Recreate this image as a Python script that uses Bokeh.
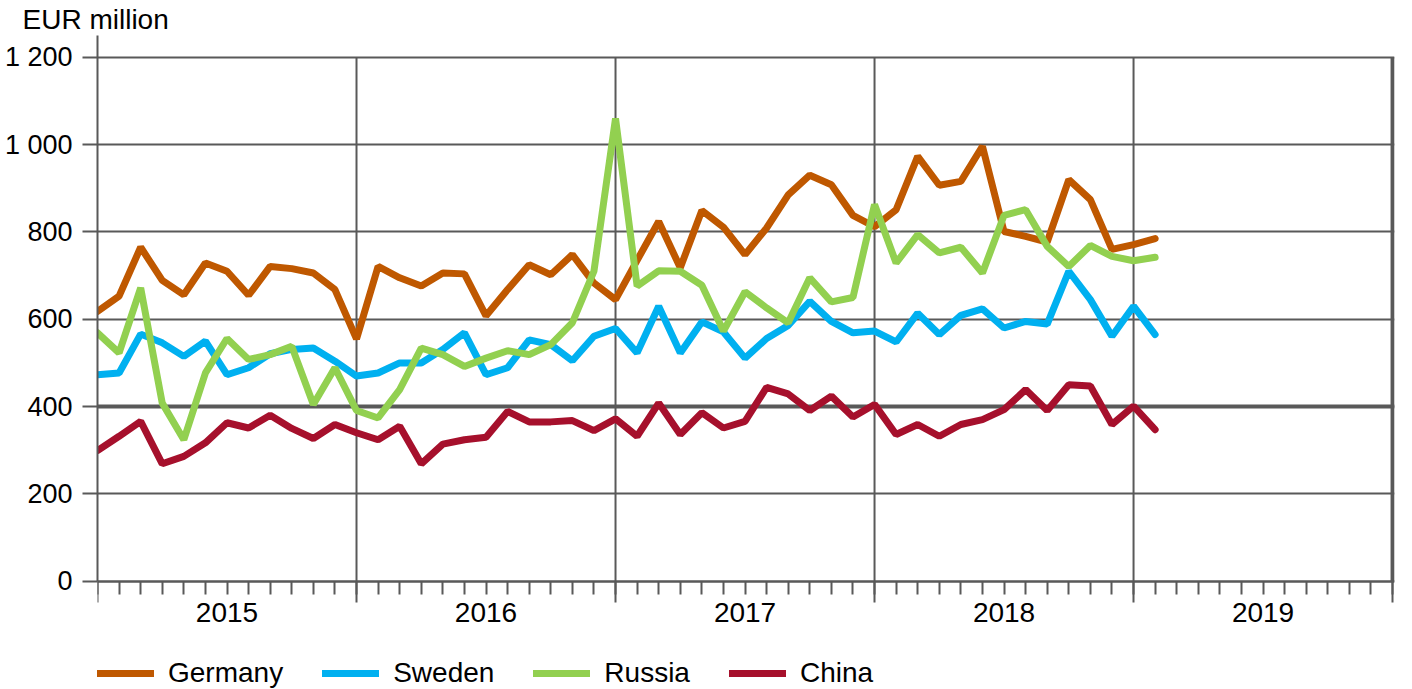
from bokeh.plotting import figure
from bokeh.models import (FixedTicker, LinearAxis, Legend, LegendItem,
                          Grid, Range1d, Title)
from bokeh.embed import file_html
from bokeh.resources import INLINE
import numpy as np

# ---- data (EUR million, monthly Jan 2015 - Feb 2019) ----
germany = [618, 653, 765, 689, 656, 729, 710, 655, 721, 716, 706, 668,
           555, 721, 695, 676, 706, 704, 608, 668, 725, 702, 748, 683,
           645, 735, 824, 718, 849, 811, 748, 809, 885, 930, 908, 838,
           812, 851, 973, 907, 916, 996, 801, 790, 777, 920, 874, 760,
           771, 785]
sweden = [473, 477, 566, 546, 515, 550, 473, 489, 521, 531, 534, 504,
          470, 477, 500, 500, 531, 569, 473, 489, 553, 542, 505, 561,
          579, 523, 630, 523, 594, 571, 511, 556, 586, 641, 595, 569,
          573, 548, 614, 565, 609, 624, 580, 595, 589, 710, 645, 561,
          630, 565]
russia = [569, 523, 672, 408, 324, 477, 556, 508, 519, 538, 405, 489,
          391, 374, 439, 534, 519, 492, 511, 528, 519, 542, 592, 710,
          1060, 676, 711, 710, 678, 573, 663, 626, 592, 695, 640, 650,
          863, 729, 794, 752, 765, 706, 838, 851, 767, 721, 769, 744,
          734, 742]
china = [299, 332, 366, 269, 286, 317, 363, 351, 380, 350, 327, 359,
         340, 324, 355, 269, 314, 324, 330, 389, 365, 365, 368, 345,
         372, 332, 408, 336, 386, 351, 366, 444, 429, 391, 424, 376,
         405, 336, 359, 332, 359, 370, 393, 439, 391, 450, 447, 359,
         401, 347]

series_names = ["Germany", "Sweden", "Russia", "China"]
series_colors = ["#BF5800", "#00B0F0", "#92D050", "#A6102C"]
years = ["2015", "2016", "2017", "2018", "2019"]
y_ticks = [0, 200, 400, 600, 800, 1000, 1200]
y_tick_labels = ["0", "200", "400", "600", "800", "1 000", "1 200"]
emphasis_ticks = [400]

FONT = "Liberation Sans"
GRID = "#595959"

n_months = 12 * len(years)
x = np.arange(len(germany))
year_bounds = [12 * k for k in range(len(years) + 1)]
year_mid = [12 * k + 6 for k in range(len(years))]

Y_TOP = 1250
Y_BOTTOM = -248  # room below the axis for year labels and legend

p = figure(width=1412, height=689,
           x_range=Range1d(0, n_months + 0.09), y_range=Range1d(Y_BOTTOM, Y_TOP),
           output_backend="svg", toolbar_location=None,
           min_border_left=97, min_border_right=18, min_border_top=0,
           min_border_bottom=0)
p.title = Title(text="EUR million", align="left", offset=-75, standoff=2,
                text_font=FONT, text_font_size="28px", text_font_style="normal",
                text_color="black")
p.outline_line_color = None
p.background_fill_color = "white"
p.border_fill_color = "white"

# grids
p.xgrid.visible = False
p.ygrid.ticker = FixedTicker(ticks=y_ticks)
p.ygrid.grid_line_color = GRID
p.ygrid.grid_line_width = 2
emph = Grid(dimension=1, ticker=FixedTicker(ticks=emphasis_ticks),
            grid_line_color=GRID, grid_line_width=4)
p.add_layout(emph)

# vertical year lines
inner = year_bounds[1:-1]
p.segment(x0=inner, y0=[y_ticks[0]] * len(inner), x1=inner,
          y1=[y_ticks[-1]] * len(inner), line_color=GRID, line_width=2)
p.segment(x0=[year_bounds[-1]], y0=[y_ticks[0]], x1=[year_bounds[-1]],
          y1=[y_ticks[-1]], line_color=GRID, line_width=4)

# y axis
yax = p.yaxis[0]
yax.ticker = FixedTicker(ticks=y_ticks)
yax.bounds = (0, Y_TOP)
yax.major_label_overrides = {t: l for t, l in zip(y_ticks, y_tick_labels)}
yax.axis_line_color = GRID
yax.axis_line_width = 2
yax.major_tick_line_color = GRID
yax.major_tick_line_width = 2
yax.major_tick_out = 15
yax.major_tick_in = 0
yax.minor_tick_line_color = None
yax.major_label_text_font = FONT
yax.major_label_text_font_size = "27px"
yax.major_label_text_color = "black"
yax.major_label_standoff = 10

# x axis (ticks only), drawn at y = 0
xax = p.xaxis[0]
xax.fixed_location = 0
xax.ticker = FixedTicker(ticks=year_bounds, minor_ticks=list(range(n_months + 1)))
xax.axis_line_color = GRID
xax.axis_line_width = 2
xax.major_tick_line_color = GRID
xax.major_tick_line_width = 2
xax.major_tick_out = 21
xax.major_tick_in = 0
xax.minor_tick_line_color = GRID
xax.minor_tick_line_width = 2
xax.minor_tick_out = 13
xax.minor_tick_in = 0
xax.major_label_overrides = {b: "" for b in year_bounds}
xax.major_label_text_font_size = "10px"

# x axis year labels
yl = LinearAxis(ticker=FixedTicker(ticks=year_mid), fixed_location=0,
                major_label_overrides={m: y for m, y in zip(year_mid, years)},
                axis_line_color=None, major_tick_line_color=None,
                minor_tick_line_color=None, major_tick_out=0, major_tick_in=0,
                minor_tick_out=0, minor_tick_in=0,
                major_label_text_font=FONT, major_label_text_font_size="28px",
                major_label_text_color="black", major_label_standoff=22)
p.add_layout(yl, "below")

# series
renderers = []
for name, vals, col in zip(series_names, [germany, sweden, russia, china], series_colors):
    r = p.line(x, vals, line_color=col, line_width=7, line_cap="round")
    renderers.append(r)

legend = Legend(items=[LegendItem(label=n, renderers=[r]) for n, r in zip(series_names, renderers)],
                orientation="horizontal", location=(0, 0),
                margin=0, padding=0, spacing=39, glyph_width=57, glyph_height=20,
                label_standoff=14, label_text_font=FONT, label_text_font_size="28px",
                label_text_color="black", border_line_color=None,
                background_fill_alpha=0)
p.add_layout(legend)

open("out.html", "w").write(file_html(p, INLINE))
